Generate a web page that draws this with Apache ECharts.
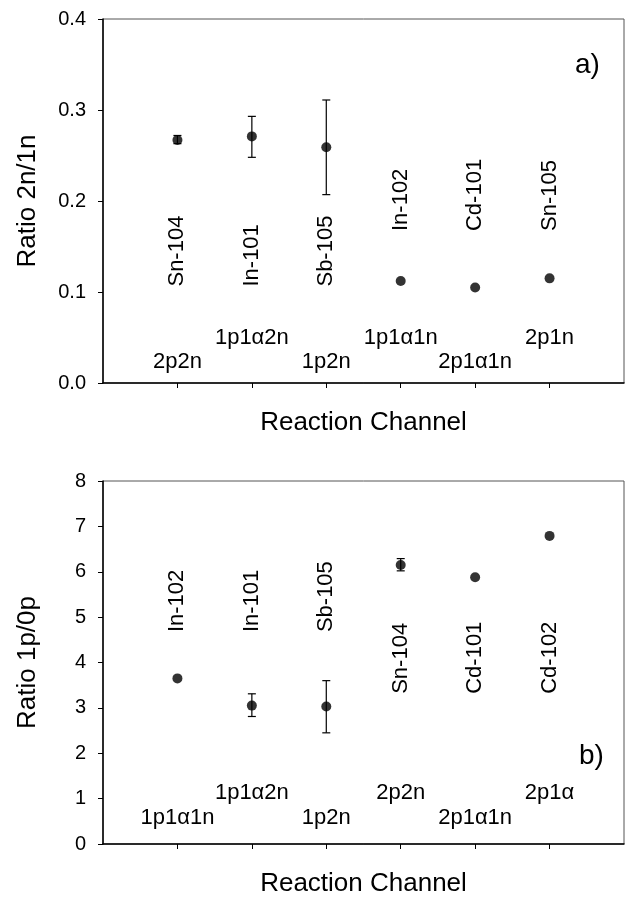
<!DOCTYPE html>
<html>
<head>
<meta charset="utf-8">
<script src="https://cdn.jsdelivr.net/npm/echarts@6/dist/echarts.min.js"></script>
<style>
  html, body { margin: 0; padding: 0; background: #fff; }
  #chart { width: 625px; height: 898px; }
</style>
</head>
<body>
<div id="chart"></div>
<script>
// panel a) ratio 2n/1n
var channelsA = ['2p2n', '1p1α2n', '1p2n', '1p1α1n', '2p1α1n', '2p1n'];
var nuclidesA = ['Sn-104', 'In-101', 'Sb-105', 'In-102', 'Cd-101', 'Sn-105'];
var ratioA = [0.267, 0.271, 0.259, 0.112, 0.105, 0.115];
var errLowA = [0.263, 0.248, 0.207, null, null, null];
var errHighA = [0.272, 0.293, 0.311, null, null, null];
var yTicksA = [0, 0.1, 0.2, 0.3, 0.4];

// panel b) ratio 1p/0p
var channelsB = ['1p1α1n', '1p1α2n', '1p2n', '2p2n', '2p1α1n', '2p1α'];
var nuclidesB = ['In-102', 'In-101', 'Sb-105', 'Sn-104', 'Cd-101', 'Cd-102'];
var ratioB = [3.65, 3.05, 3.03, 6.15, 5.88, 6.79];
var errLowB = [null, 2.81, 2.45, 6.02, null, null];
var errHighB = [null, 3.31, 3.60, 6.29, null, null];
var yTicksB = [0, 1, 2, 3, 4, 5, 6, 7, 8];

var chart = echarts.init(document.getElementById('chart'));
var font = 'Liberation Sans, Arial, sans-serif';

function pts(vals) {
	return vals.map(function (v, i) { return [i + 1, v]; });
}
function errs(lo, hi) {
	var out = [];
	for (var i = 0; i < lo.length; i++) {
		if (lo[i] != null) out.push([i + 1, lo[i], hi[i]]);
	}
	return out;
}
// label anchors (in data units) for the text inside each panel
function nucLabels(names, yPos) {
	return names.map(function (n, i) { return [i + 1, yPos[i], n]; });
}
function chanLabels(names, yLow, yHigh) {
	return names.map(function (n, i) { return [i + 1, i % 2 === 0 ? yLow : yHigh, n]; });
}

function errRender(params, api) {
	var x = api.value(0);
	var p1 = api.coord([x, api.value(1)]);
	var p2 = api.coord([x, api.value(2)]);
	var s = { stroke: '#000', lineWidth: 1.2 };
	return {
		type: 'group',
		children: [
			{ type: 'line', shape: { x1: p1[0], y1: p1[1], x2: p2[0], y2: p2[1] }, style: s },
			{ type: 'line', shape: { x1: p1[0] - 4, y1: p1[1], x2: p1[0] + 4, y2: p1[1] }, style: s },
			{ type: 'line', shape: { x1: p2[0] - 4, y1: p2[1], x2: p2[0] + 4, y2: p2[1] }, style: s }
		]
	};
}
function vertTextRender(params, api) {
	var p = api.coord([api.value(0), api.value(1)]);
	return {
		type: 'text', x: p[0], y: p[1], rotation: Math.PI / 2,
		style: { text: api.value(2), fontSize: 22, fontFamily: font, fill: '#000', align: 'left', verticalAlign: 'middle' }
	};
}
function horzTextRender(params, api) {
	var p = api.coord([api.value(0), api.value(1)]);
	return {
		type: 'text', x: p[0], y: p[1],
		style: { text: api.value(2), fontSize: 22, fontFamily: font, fill: '#000', align: 'center', verticalAlign: 'middle' }
	};
}

function xAxisCfg(gi) {
	return {
		gridIndex: gi, type: 'value', min: 0, max: 7,
		name: 'Reaction Channel', nameLocation: 'middle', nameGap: 27,
		nameTextStyle: { fontSize: 26, fontFamily: font, color: '#000' },
		axisLine: { show: true, lineStyle: { color: '#000', width: 1.5 } },
		axisTick: { show: true, length: 5, customValues: [1, 2, 3, 4, 5, 6], lineStyle: { color: '#000' } },
		axisLabel: { show: false },
		splitLine: { show: false }
	};
}
function yAxisCfg(gi, name, max, interval, digits, ticks) {
	return {
		gridIndex: gi, type: 'value', min: 0, max: max, interval: interval,
		name: name, nameLocation: 'middle', nameGap: 62,
		nameTextStyle: { fontSize: 26, fontFamily: font, color: '#000' },
		axisLine: { show: true, lineStyle: { color: '#000', width: 1.5 } },
		axisTick: { show: true, length: 5, customValues: ticks, lineStyle: { color: '#000' } },
		axisLabel: { show: true, margin: 17, fontSize: 20, fontFamily: font, color: '#000', customValues: ticks,
			formatter: function (v) { return v.toFixed(digits); } },
		splitLine: { show: false }
	};
}

var option = {
	animation: false,
	backgroundColor: '#fff',
	grid: [
		{ left: 103, top: 19, width: 521, height: 364, show: true, borderColor: '#555', borderWidth: 1 },
		{ left: 103, top: 481, width: 521, height: 365, show: true, borderColor: '#555', borderWidth: 1 }
	],
	xAxis: [xAxisCfg(0), xAxisCfg(1)],
	yAxis: [
		yAxisCfg(0, 'Ratio 2n/1n', 0.4, 0.1, 1, yTicksA),
		yAxisCfg(1, 'Ratio 1p/0p', 8, 1, 0, yTicksB)
	],
	graphic: [
		{ type: 'text', left: 575, top: 51, style: { text: 'a)', fontSize: 28, fontFamily: font, fill: '#000' } },
		{ type: 'text', left: 579, top: 742, style: { text: 'b)', fontSize: 28, fontFamily: font, fill: '#000' } }
	],
	series: [
		{ type: 'custom', xAxisIndex: 0, yAxisIndex: 0, renderItem: errRender, data: errs(errLowA, errHighA), z: 2 },
		{ type: 'scatter', xAxisIndex: 0, yAxisIndex: 0, symbol: 'circle', symbolSize: 10,
			itemStyle: { color: '#000' }, data: pts(ratioA), z: 3 },
		{ type: 'custom', xAxisIndex: 0, yAxisIndex: 0, renderItem: vertTextRender,
			data: nucLabels(nuclidesA, [0.106, 0.106, 0.106, 0.167, 0.167, 0.167]) },
		{ type: 'custom', xAxisIndex: 0, yAxisIndex: 0, renderItem: horzTextRender,
			data: chanLabels(channelsA, 0.023, 0.05) },

		{ type: 'custom', xAxisIndex: 1, yAxisIndex: 1, renderItem: errRender, data: errs(errLowB, errHighB), z: 2 },
		{ type: 'scatter', xAxisIndex: 1, yAxisIndex: 1, symbol: 'circle', symbolSize: 10,
			itemStyle: { color: '#000' }, data: pts(ratioB), z: 3 },
		{ type: 'custom', xAxisIndex: 1, yAxisIndex: 1, renderItem: vertTextRender,
			data: nucLabels(nuclidesB, [4.67, 4.67, 4.67, 3.31, 3.31, 3.31]) },
		{ type: 'custom', xAxisIndex: 1, yAxisIndex: 1, renderItem: horzTextRender,
			data: chanLabels(channelsB, 0.57, 1.12) }
	]
};
chart.setOption(option);
</script>
</body>
</html>
